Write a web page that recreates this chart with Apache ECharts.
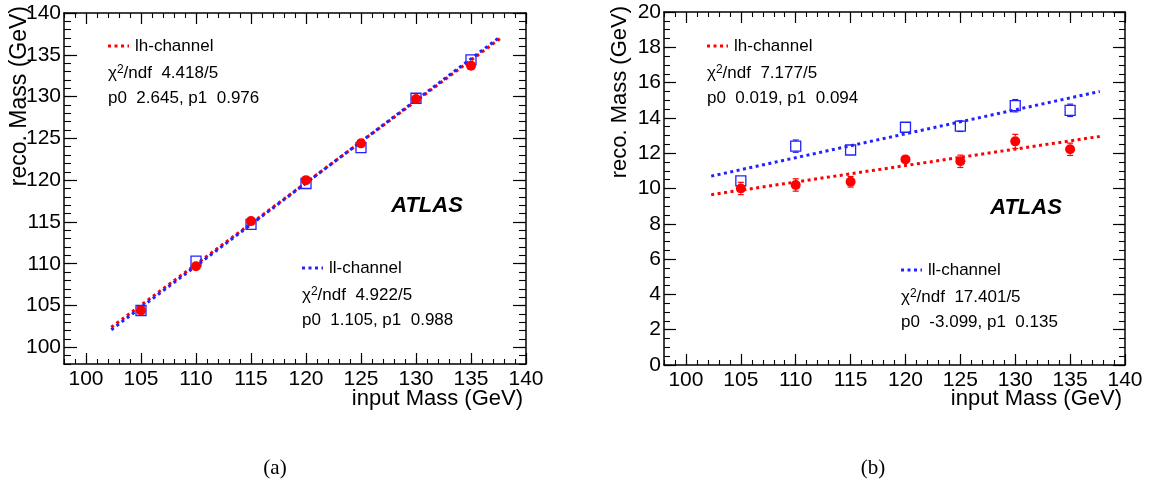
<!DOCTYPE html>
<html>
<head>
<meta charset="utf-8">
<script src="https://cdn.jsdelivr.net/npm/echarts@6/dist/echarts.min.js"></script>
<style>
html,body{margin:0;padding:0;background:#fff;}
#chart{width:1153px;height:487px;}
</style>
</head>
<body>
<div id="chart"></div>
<script>
// ---- data ----
const inputMass = [105, 110, 115, 120, 125, 130, 135];

// panel (a)
const lhRecoA = [104.4, 109.7, 115.1, 120.0, 124.4, 129.7, 133.7];
const llRecoA = [104.4, 110.3, 114.7, 119.6, 123.9, 129.8, 134.4];
const lhErrA  = [0.3, 0.3, 0.3, 0.3, 0.3, 0.3, 0.3];
const llErrA  = [0.3, 0.3, 0.3, 0.3, 0.3, 0.3, 0.3];
const fitX    = [102.3, 137.7];
const lhFitA  = [102.4, 137.0];
const llFitA  = [102.1, 137.2];

// panel (b)
const lhRecoB = [10.0, 10.2, 10.38, 11.65, 11.54, 12.67, 12.22];
const llRecoB = [10.43, 12.40, 12.18, 13.47, 13.53, 14.69, 14.43];
const lhErrB  = [0.35, 0.35, 0.3, 0.15, 0.35, 0.4, 0.35];
const llErrB  = [0.2, 0.35, 0.2, 0.2, 0.3, 0.35, 0.35];
const lhFitB  = [9.65, 12.95];
const llFitB  = [10.7, 15.5];

// tick labels
const xTicks  = [100, 105, 110, 115, 120, 125, 130, 135, 140];
const yTicksA = [100, 105, 110, 115, 120, 125, 130, 135, 140];
const yTicksB = [0, 2, 4, 6, 8, 10, 12, 14, 16, 18, 20];

// fit-box texts
const statsA = {
  lh: ['lh-channel', '4.418/5', 'p0  2.645, p1  0.976'],
  ll: ['ll-channel', '4.922/5', 'p0  1.105, p1  0.988']
};
const statsB = {
  lh: ['lh-channel', '7.177/5', 'p0  0.019, p1  0.094'],
  ll: ['ll-channel', '17.401/5', 'p0  -3.099, p1  0.135']
};

// ---- helpers ----
const FONT = '"Liberation Sans", Arial, Helvetica, sans-serif';
const RED = '#ff0000', BLUE = '#2222ff';
const MARK = 10;

function range(a, b, s) { const r = []; for (let v = a; v <= b + 1e-9; v += s) r.push(+v.toFixed(4)); return r; }

function axesFor(dim, g, min, max, majors, minors, majLen, minLen, labelSize, labelMargin) {
  const line = { color: '#000', width: 1.5 };
  const pos = dim === 'x' ? ['bottom', 'top'] : ['left', 'right'];
  const base = { gridIndex: g, type: 'value', min: min, max: max, splitLine: { show: false }, scale: true };
  return [
    Object.assign({}, base, {
      position: pos[0],
      axisLine: { show: true, onZero: false, lineStyle: line },
      axisTick: { show: true, inside: true, length: majLen, customValues: majors, lineStyle: { color: '#000', width: 1.2 } },
      axisLabel: { show: true, customValues: majors, fontSize: labelSize, fontFamily: FONT, color: '#000', margin: labelMargin }
    }),
    Object.assign({}, base, {
      position: pos[0],
      axisLine: { show: false, onZero: false },
      axisTick: { show: true, inside: true, length: minLen, customValues: minors, lineStyle: { color: '#000', width: 1.1 } },
      axisLabel: { show: false }
    }),
    Object.assign({}, base, {
      position: pos[1],
      axisLine: { show: true, onZero: false, lineStyle: line },
      axisTick: { show: true, inside: true, length: majLen, customValues: majors, lineStyle: { color: '#000', width: 1.2 } },
      axisLabel: { show: false }
    }),
    Object.assign({}, base, {
      position: pos[1],
      axisLine: { show: false, onZero: false },
      axisTick: { show: true, inside: true, length: minLen, customValues: minors, lineStyle: { color: '#000', width: 1.1 } },
      axisLabel: { show: false }
    })
  ];
}

function errSeries(ax, xs, ys, es, color) {
  return {
    type: 'custom', xAxisIndex: ax, yAxisIndex: ax, z: 3,
    data: xs.map((x, i) => [x, ys[i], es[i]]),
    encode: { x: 0, y: 1 },
    renderItem: function (params, api) {
      const x = api.value(0), y = api.value(1), e = api.value(2);
      const c = api.coord([x, y]);
      const t = api.coord([x, y + e]), b = api.coord([x, y - e]);
      const half = MARK / 2;
      const st = { stroke: color, lineWidth: 1.2 };
      const kids = [];
      if (c[1] - t[1] > half) {
        kids.push({ type: 'line', shape: { x1: t[0], y1: t[1], x2: t[0], y2: c[1] - half }, style: st });
        kids.push({ type: 'line', shape: { x1: t[0] - 3, y1: t[1], x2: t[0] + 3, y2: t[1] }, style: st });
      }
      if (b[1] - c[1] > half) {
        kids.push({ type: 'line', shape: { x1: b[0], y1: c[1] + half, x2: b[0], y2: b[1] }, style: st });
        kids.push({ type: 'line', shape: { x1: b[0] - 3, y1: b[1], x2: b[0] + 3, y2: b[1] }, style: st });
      }
      return { type: 'group', children: kids };
    }
  };
}

function pointSeries(ax, xs, ys, kind) {
  if (kind === 'lh') {
    return { type: 'scatter', xAxisIndex: ax, yAxisIndex: ax, z: 5, symbol: 'circle', symbolSize: MARK,
      itemStyle: { color: RED, opacity: 1 }, data: xs.map((x, i) => [x, ys[i]]) };
  }
  return { type: 'scatter', xAxisIndex: ax, yAxisIndex: ax, z: 4, symbol: 'rect', symbolSize: MARK,
    itemStyle: { color: 'rgba(0,0,0,0)', borderColor: BLUE, borderWidth: 1.3, opacity: 1 },
    data: xs.map((x, i) => [x, ys[i]]) };
}

function fitSeries(ax, xs, ys, color, z) {
  return { type: 'line', xAxisIndex: ax, yAxisIndex: ax, z: z, symbol: 'none', silent: true,
    lineStyle: { color: color, width: 3, type: [3, 3.5] },
    data: xs.map((x, i) => [x, ys[i]]) };
}

function statBox(x0, y0, stats, color) {
  const sz = 17;
  return [
    { type: 'line', shape: { x1: x0, y1: y0, x2: x0 + 21, y2: y0 }, style: { stroke: color, lineWidth: 3, lineDash: [3, 3.5] } },
    { type: 'text', x: x0 + 27, y: y0, style: { text: stats[0], fontSize: sz, fontFamily: FONT, fill: '#000', verticalAlign: 'middle' } },
    { type: 'text', x: x0, y: y0 + 27, style: {
        text: 'χ{sup|2}/ndf  ' + stats[1], fontSize: sz, fontFamily: FONT, fill: '#000', verticalAlign: 'middle',
        rich: { sup: { fontSize: 12, fontFamily: FONT, fill: '#000', verticalAlign: 'top', padding: [0, 0, 6, 0] } } } },
    { type: 'text', x: x0, y: y0 + 52, style: { text: stats[2], fontSize: sz, fontFamily: FONT, fill: '#000', verticalAlign: 'middle' } }
  ];
}

const xMinors = range(98, 140, 1);
const yMinorsA = range(98, 140, 1);
const yMinorsB = range(0, 20, 0.5);

const option = {
  animation: false,
  backgroundColor: '#fff',
  grid: [
    { left: 64, top: 13, width: 462, height: 351, outerBoundsMode: 'none', containLabel: false },
    { left: 664, top: 12, width: 461, height: 353, outerBoundsMode: 'none', containLabel: false }
  ],
  xAxis: [].concat(
    axesFor('x', 0, 98, 140, xTicks, xMinors, 11, 5, 21, 5),
    axesFor('x', 1, 98, 140, xTicks, xMinors, 11, 5, 21, 5)
  ),
  yAxis: [].concat(
    axesFor('y', 0, 98, 140, yTicksA, yMinorsA, 13, 7, 21, 3),
    axesFor('y', 1, 0, 20, yTicksB, yMinorsB, 12, 6, 21, 3)
  ),
  series: [
    // panel (a)
    fitSeries(0, fitX, lhFitA, RED, 2),
    fitSeries(0, fitX, llFitA, BLUE, 2.1),
    errSeries(0, inputMass, llRecoA, llErrA, BLUE),
    errSeries(0, inputMass, lhRecoA, lhErrA, RED),
    pointSeries(0, inputMass, llRecoA, 'll'),
    pointSeries(0, inputMass, lhRecoA, 'lh'),
    // panel (b)
    fitSeries(4, fitX, lhFitB, RED, 2),
    fitSeries(4, fitX, llFitB, BLUE, 2.1),
    errSeries(4, inputMass, llRecoB, llErrB, BLUE),
    errSeries(4, inputMass, lhRecoB, lhErrB, RED),
    pointSeries(4, inputMass, llRecoB, 'll'),
    pointSeries(4, inputMass, lhRecoB, 'lh')
  ],
  graphic: [].concat(
    statBox(108, 46, statsA.lh, RED),
    statBox(302, 268, statsA.ll, BLUE),
    statBox(707, 46, statsB.lh, RED),
    statBox(901, 270, statsB.ll, BLUE),
    [
      { type: 'text', x: 427, y: 206, style: { text: 'ATLAS', font: 'italic bold 22px "Liberation Sans"', fill: '#000', align: 'center', verticalAlign: 'middle' } },
      { type: 'text', x: 1026, y: 208, style: { text: 'ATLAS', font: 'italic bold 22px "Liberation Sans"', fill: '#000', align: 'center', verticalAlign: 'middle' } },
      { type: 'text', x: 523, y: 399, style: { text: 'input Mass (GeV)', fontSize: 22, fontFamily: FONT, fill: '#000', align: 'right', verticalAlign: 'middle' } },
      { type: 'text', x: 1122, y: 399, style: { text: 'input Mass (GeV)', fontSize: 22, fontFamily: FONT, fill: '#000', align: 'right', verticalAlign: 'middle' } },
      { type: 'text', x: 20, y: 6, rotation: Math.PI / 2, style: { text: 'reco. Mass (GeV)', fontSize: 23, fontFamily: FONT, fill: '#000', align: 'right', verticalAlign: 'middle' } },
      { type: 'text', x: 620, y: 6, rotation: Math.PI / 2, style: { text: 'reco. Mass (GeV)', fontSize: 22, fontFamily: FONT, fill: '#000', align: 'right', verticalAlign: 'middle' } },
      { type: 'text', x: 275, y: 468, style: { text: '(a)', fontSize: 21, fontFamily: '"Liberation Serif", "Times New Roman", serif', fill: '#000', align: 'center', verticalAlign: 'middle' } },
      { type: 'text', x: 873, y: 468, style: { text: '(b)', fontSize: 21, fontFamily: '"Liberation Serif", "Times New Roman", serif', fill: '#000', align: 'center', verticalAlign: 'middle' } }
    ]
  )
};

const chart = echarts.init(document.getElementById('chart'), null, { renderer: 'canvas' });
chart.setOption(option);
</script>
</body>
</html>
